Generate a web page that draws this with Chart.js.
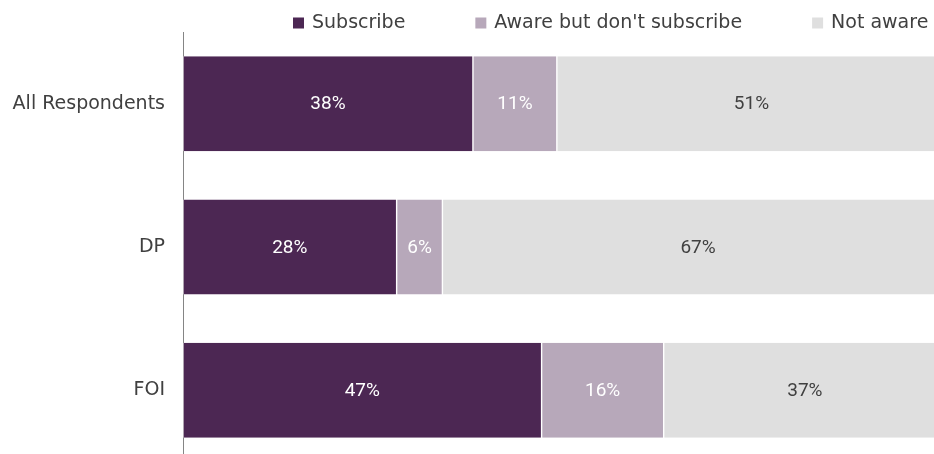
<!DOCTYPE html>
<html>
<head>
<meta charset="utf-8">
<script src="https://cdn.jsdelivr.net/npm/chart.js@4/dist/chart.umd.min.js"></script>
<style>
  html, body { margin: 0; padding: 0; background: #ffffff; overflow: hidden; }
  #wrap { position: absolute; left: 0; top: 0; width: 946px; height: 462px; }
</style>
</head>
<body>
<div id="wrap"><canvas id="chart" width="946" height="462"></canvas></div>
<script>
// Awareness of the subscription service, by respondent group (percent)
const categories = ['All Respondents', 'DP', 'FOI'];
const seriesNames = ['Subscribe', "Aware but don't subscribe", 'Not aware'];
const subscribe = [38, 28, 47];
const awareNotSubscribed = [11, 6, 16];
const notAware = [51, 67, 37];

const seriesColors = ['#4c2753', '#b7a8ba', '#dfdfdf'];
const valueLabelColors = ['#ffffff', '#ffffff', '#404040'];
const textColor = '#404040';

// Legend drawn as a single row above the plot
const legendRow = {
  id: 'legendRow',
  afterDraw(chart) {
    const ctx = chart.ctx;
    ctx.save();
    ctx.font = '19px "DejaVu Sans"';
    ctx.textBaseline = 'middle';
    ctx.textAlign = 'left';
    let x = 293;
    const y = 23;
    chart.data.datasets.forEach(ds => {
      ctx.fillStyle = ds.backgroundColor;
      ctx.fillRect(x, y - 5.5, 11, 11);
      ctx.fillStyle = textColor;
      ctx.fillText(ds.label, x + 19, y);
      x += 19 + ctx.measureText(ds.label).width + 70;
    });
    ctx.restore();
  }
};

// Percentage written in the middle of each bar segment
const barValueLabels = {
  id: 'barValueLabels',
  afterDatasetsDraw(chart) {
    const ctx = chart.ctx;
    ctx.save();
    ctx.font = '19px Roboto';
    ctx.textAlign = 'center';
    ctx.textBaseline = 'middle';
    chart.data.datasets.forEach((ds, i) => {
      const meta = chart.getDatasetMeta(i);
      meta.data.forEach((bar, j) => {
        const cx = (bar.x + bar.base) / 2;
        ctx.fillStyle = valueLabelColors[i];
        ctx.fillText(ds.data[j] + '%', cx, bar.y + 1);
      });
    });
    ctx.restore();
  }
};

const seriesValues = [subscribe, awareNotSubscribed, notAware];

new Chart(document.getElementById('chart'), {
  type: 'bar',
  data: {
    labels: categories,
    datasets: seriesNames.map((name, i) => ({
      label: name,
      data: seriesValues[i],
      backgroundColor: seriesColors[i],
      borderColor: '#ffffff',
      borderWidth: { left: 0.7, right: 0.7, top: 0, bottom: 0 },
      borderSkipped: false,
      barPercentage: 0.663,
      categoryPercentage: 1.0
    }))
  },
  options: {
    indexAxis: 'y',
    responsive: false,
    animation: false,
    devicePixelRatio: 1,
    layout: { padding: { top: 32, left: 0, right: 0, bottom: 0 } },
    plugins: {
      legend: { display: false },
      tooltip: { enabled: false }
    },
    scales: {
      x: {
        stacked: true,
        min: 0,
        max: 100,
        display: false
      },
      y: {
        stacked: true,
        grid: { display: false, drawTicks: false },
        border: { display: true, color: '#858585', width: 1 },
        ticks: {
          color: textColor,
          padding: 18,
          font: { family: '"DejaVu Sans"', size: 19 }
        },
        afterFit(scale) {
          // fixed axis width; no extra room reserved above/below for tick labels
          scale.width = 183;
          scale.paddingTop = 0;
          scale.paddingBottom = 0;
        }
      }
    }
  },
  plugins: [barValueLabels, legendRow]
});
</script>
</body>
</html>
